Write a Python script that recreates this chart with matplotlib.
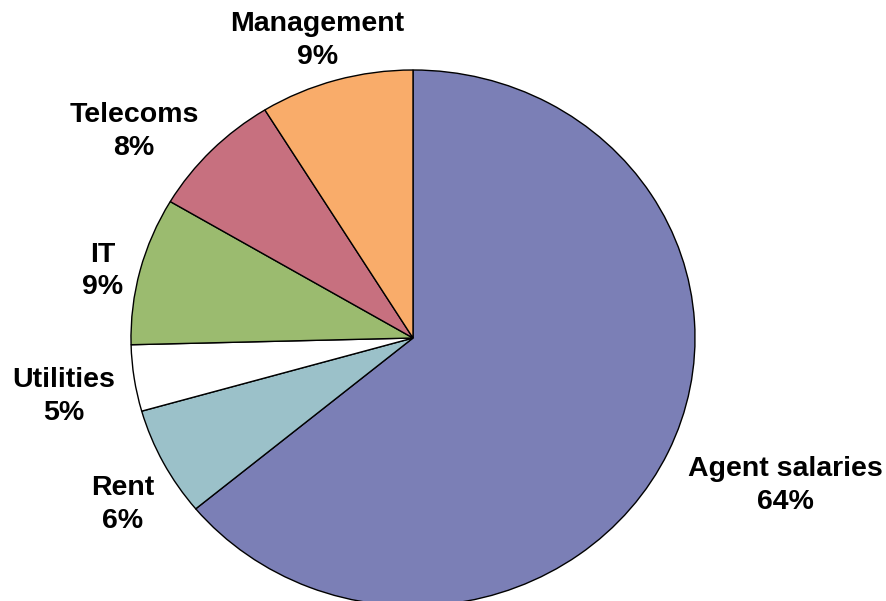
import matplotlib.pyplot as plt

categories = ['Agent salaries', 'Rent', 'Utilities', 'IT', 'Telecoms', 'Management']
shares = [64.0, 6.6, 4.0, 8.9, 7.7, 8.8]
pct_labels = ['64%', '6%', '5%', '9%', '8%', '9%']
colors = ['#7B7FB6', '#9BC1C9', '#FFFFFF', '#9BBB6F', '#C7707F', '#F9AC6A']

# where each label sits (axes data units, pie radius = 1)
label_pos = [(1.32, -0.55), (-1.03, -0.62), (-1.24, -0.22),
             (-1.10, 0.25), (-0.99, 0.77), (-0.34, 1.11)]

fig = plt.figure(figsize=(8.86, 6.01), dpi=100)
# pie is slightly wider than tall and runs off the bottom edge
ax = fig.add_axes([131 / 886, -5 / 601, 564 / 886, 536 / 601])
ax.pie(shares, colors=colors, startangle=90, counterclock=False,
       wedgeprops=dict(edgecolor='black', linewidth=1))
ax.set_aspect('auto')
ax.set_xlim(-1, 1)
ax.set_ylim(-1, 1)

for name, pct, (x, y) in zip(categories, pct_labels, label_pos):
    ax.text(x, y, name + '\n' + pct, ha='center', va='center',
            fontsize=20.5, fontweight='bold', family='Liberation Sans',
            linespacing=1.35)

fig.savefig('out.png', dpi=100)
